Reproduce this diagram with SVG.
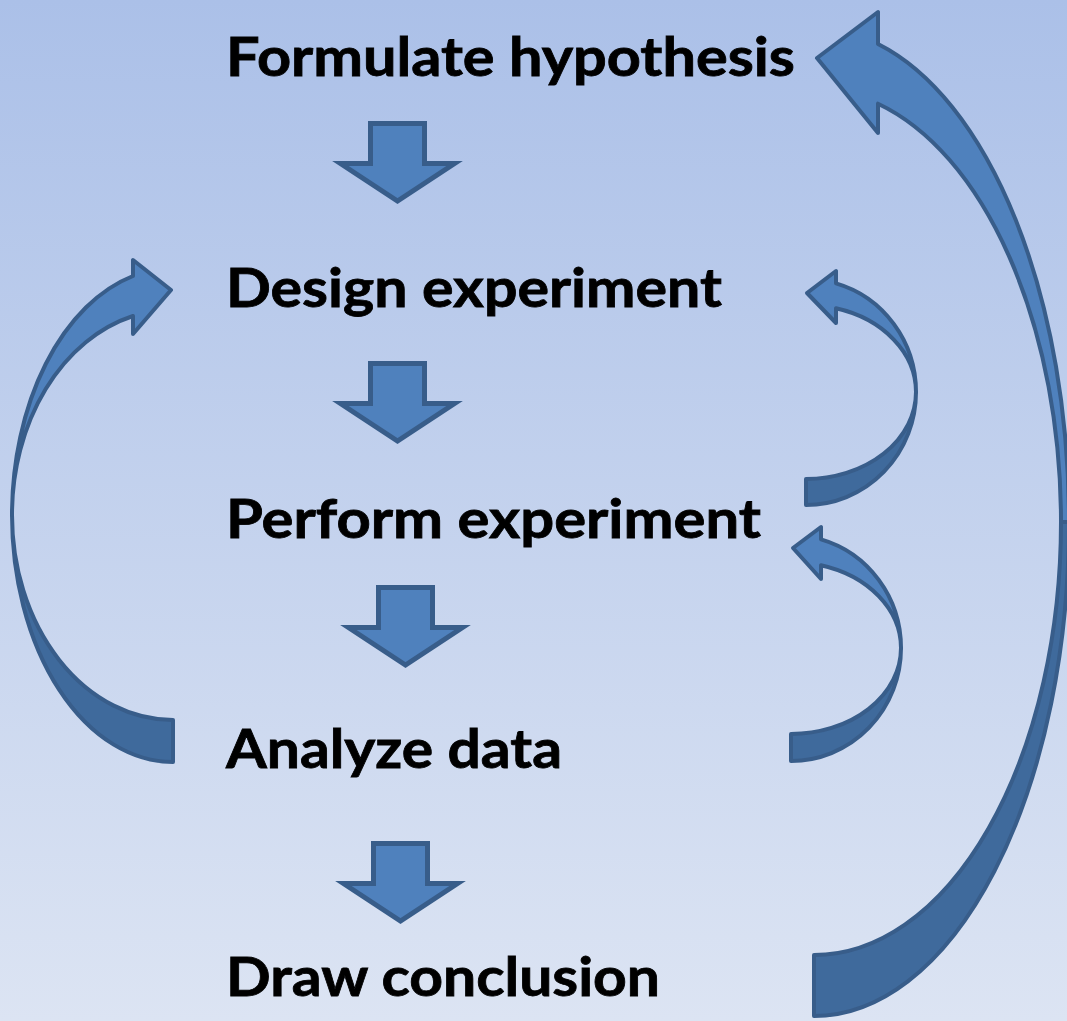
<svg xmlns="http://www.w3.org/2000/svg" width="1067" height="1021" viewBox="0 0 1067 1021">
  <defs>
    <linearGradient id="bg" x1="0" y1="0" x2="0" y2="1">
      <stop offset="0" stop-color="#ABC0E8"/>
      <stop offset="1" stop-color="#DCE4F3"/>
    </linearGradient>
    <!-- block arrow pointing down, origin at top centre of the shaft -->
    <path id="down-arrow" d="M-27,2.5 H27 V42.5 H57 L0,80 L-57,42.5 H-27 Z"/>
    <style>
      .step { font-family: Lato, "Open Sans", "Liberation Sans", sans-serif; font-weight: 700; font-size: 54px; fill: #000; stroke: #000; stroke-width: 0.8px; }
      .down { fill: #4F81BD; stroke: #385D8A; stroke-width: 5; stroke-linejoin: miter; }
      .front { fill: #4F81BD; stroke: #385D8A; stroke-width: 4; stroke-linejoin: round; }
      .back { fill: #3F6A9C; stroke: #385D8A; stroke-width: 4; stroke-linejoin: round; }
    </style>
  </defs>

  <rect width="1067" height="1021" fill="url(#bg)"/>

  <g id="connectors">
    <!-- straight steps between stages -->
    <use href="#down-arrow" class="down" transform="translate(397.5,121)"/>
    <use href="#down-arrow" class="down" transform="translate(397.5,361)"/>
    <use href="#down-arrow" class="down" transform="translate(405.5,585)"/>
    <use href="#down-arrow" class="down" transform="translate(400.5,841)"/>

    <!-- loop: Analyze data back to Design experiment (left side) -->
    <g id="loop-analyze-design">
      <path class="back" d="M12,515 A161,247 0 0 0 173,762 L173,720 A161,205 0 0 1 12,515 Z"/>
      <path class="front" d="M133,276 A161,247 0 0 0 12,515 A161,205 0 0 1 133,316 L133,334 L171,290 L133,260 Z"/>
    </g>

    <!-- loop: Perform experiment back to Design experiment -->
    <g id="loop-perform-design">
      <path class="back" d="M916,392 A110,113 0 0 1 806,505 L806,479 A110,87 0 0 0 916,392 Z"/>
      <path class="front" d="M836,283.3 A110,113 0 0 1 916,392 A110,87 0 0 0 836,308.3 L836,323 L807,293 L836,271 Z"/>
    </g>

    <!-- loop: Analyze data back to Perform experiment -->
    <g id="loop-analyze-perform">
      <path class="back" d="M901,648 A110,113 0 0 1 791,761 L791,734 A110,86 0 0 0 901,648 Z"/>
      <path class="front" d="M821,539.3 A110,113 0 0 1 901,648 A110,86 0 0 0 821,565.3 L821,579 L793,548 L821,527 Z"/>
    </g>

    <!-- loop: Draw conclusion back to Formulate hypothesis -->
    <g id="loop-conclusion-hypothesis">
      <path class="back" d="M1069,522 A255,494 0 0 1 814,1016 L814,955 A247,433 0 0 0 1061,522 Z"/>
      <path class="front" d="M878,44 A255,494 0 0 1 1069,522 L1061,522 A247,433 0 0 0 878,103.7 L878,133 L817,58 L878,12 Z"/>
    </g>
  </g>

  <g id="formulate-hypothesis">
    <text class="step" x="226" y="76" textLength="569" lengthAdjust="spacingAndGlyphs">Formulate hypothesis</text>
  </g>
  <g id="design-experiment">
    <text class="step" x="226" y="307" textLength="496" lengthAdjust="spacingAndGlyphs">Design experiment</text>
  </g>
  <g id="perform-experiment">
    <text class="step" x="226" y="538" textLength="535" lengthAdjust="spacingAndGlyphs">Perform experiment</text>
  </g>
  <g id="analyze-data">
    <text class="step" x="226" y="768" textLength="336" lengthAdjust="spacingAndGlyphs">Analyze data</text>
  </g>
  <g id="draw-conclusion">
    <text class="step" x="226" y="996" textLength="434" lengthAdjust="spacingAndGlyphs">Draw conclusion</text>
  </g>
</svg>
